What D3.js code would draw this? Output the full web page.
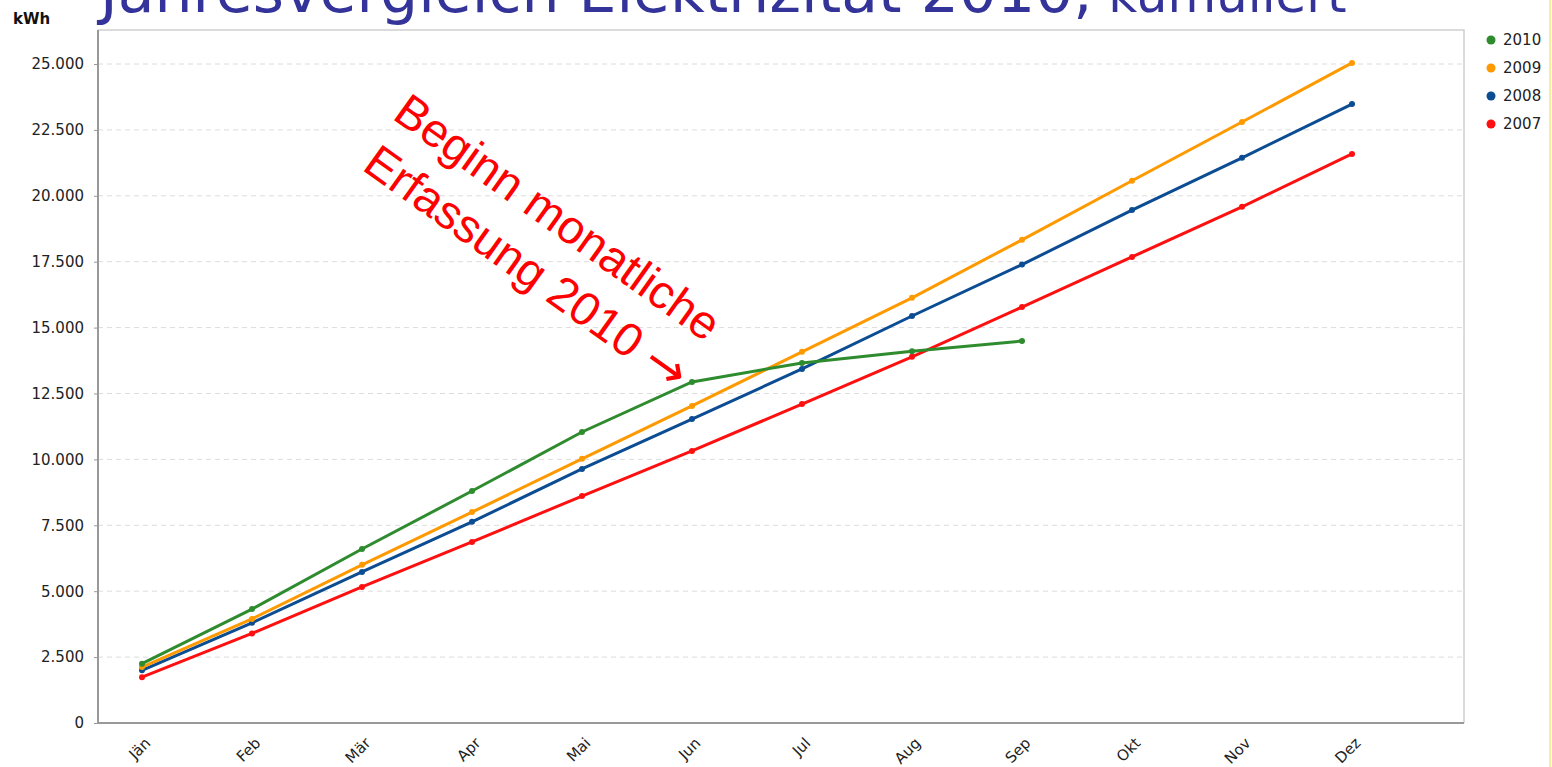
<!DOCTYPE html>
<html>
<head>
<meta charset="utf-8">
<script src="https://cdn.jsdelivr.net/npm/d3@7"></script>
<style>
  body { margin: 0; background: #fff; }
  svg { display: block; }
</style>
</head>
<body>
<div id="chart"></div>
<script>
// Daten (kumulierte kWh)
const months = ["Jän", "Feb", "Mär", "Apr", "Mai", "Jun", "Jul", "Aug", "Sep", "Okt", "Nov", "Dez"];
const years = ["2010", "2009", "2008", "2007"];
const v2010 = [2250, 4320, 6600, 8800, 11040, 12940, 13660, 14100, 14490];
const v2009 = [2120, 3950, 6000, 8000, 10020, 12030, 14080, 16130, 18330, 20570, 22800, 25040];
const v2008 = [2000, 3800, 5730, 7630, 9640, 11530, 13430, 15440, 17390, 19460, 21440, 23480];
const v2007 = [1740, 3400, 5160, 6870, 8610, 10320, 12100, 13890, 15780, 17680, 19580, 21590];
const yTicks = [0, 2500, 5000, 7500, 10000, 12500, 15000, 17500, 20000, 22500, 25000];
const colors = ["#2e8b2e", "#ff9900", "#0b4c92", "#ff1010"];
const titleMain = "Jahresvergleich Elektrizität 2010,";
const titleSub = " kumuliert";
const noteLine1 = "Beginn monatliche";
const noteLine2 = "Erfassung 2010 ";
const noteArrow = "→";

const W = 1552, H = 767;
const margin = { top: 30, right: 88, bottom: 44, left: 98 };
const plotRight = W - margin.right;
const plotBottom = H - margin.bottom;

const svg = d3.select("#chart").append("svg")
    .attr("width", W)
    .attr("height", H);

// Skalen
const x = d3.scalePoint().domain(months).range([142, 1352]);
const y = d3.scaleLinear().domain([0, 25000]).range([plotBottom, 64]);

const de = d3.formatLocale({ decimal: ",", thousands: ".", grouping: [3], currency: ["", "€"] });
const fmt = de.format(",d");

// Rahmen (oben/rechts hellgrau)
svg.append("path")
    .attr("d", `M${margin.left},${margin.top}H${plotRight}V${plotBottom}`)
    .attr("fill", "none")
    .attr("stroke", "#cfcfcf")
    .attr("stroke-width", 1.5);

// Gitterlinien
svg.append("g")
    .selectAll("line")
    .data(yTicks.filter(d => d > 0))
    .enter().append("line")
    .attr("x1", margin.left)
    .attr("x2", plotRight)
    .attr("y1", d => y(d))
    .attr("y2", d => y(d))
    .attr("stroke", "#dcdcdc")
    .attr("stroke-dasharray", "5,4");

// Y-Achse
const yAxis = svg.append("g")
    .attr("transform", `translate(${margin.left},0)`)
    .call(d3.axisLeft(y).tickValues(yTicks).tickFormat(fmt).tickSizeInner(4).tickSizeOuter(0).tickPadding(10));
yAxis.select(".domain").remove();
yAxis.selectAll(".tick line").attr("stroke", "#999");
yAxis.selectAll("text")
    .attr("font-family", "DejaVu Sans, Verdana, sans-serif")
    .attr("font-size", 15)
    .attr("fill", "#222");
svg.append("line")
    .attr("x1", margin.left).attr("x2", margin.left)
    .attr("y1", margin.top).attr("y2", plotBottom)
    .attr("stroke", "#999").attr("stroke-width", 2);

// X-Achse
const xAxis = svg.append("g")
    .attr("transform", `translate(0,${plotBottom})`)
    .call(d3.axisBottom(x).tickSize(0).tickPadding(0));
xAxis.select(".domain").remove();
xAxis.selectAll("text")
    .attr("font-family", "DejaVu Sans, Verdana, sans-serif")
    .attr("font-size", 15)
    .attr("fill", "#222")
    .attr("text-anchor", "end")
    .attr("dy", null)
    .attr("y", 0)
    .attr("transform", "translate(9,21) rotate(-45)");
svg.append("line")
    .attr("x1", margin.left).attr("x2", plotRight)
    .attr("y1", plotBottom).attr("y2", plotBottom)
    .attr("stroke", "#999").attr("stroke-width", 2);

// kWh Label
svg.append("text")
    .attr("x", 13)
    .attr("y", 24)
    .attr("font-family", "DejaVu Sans, Verdana, sans-serif")
    .attr("font-weight", "bold")
    .attr("font-size", 15)
    .attr("fill", "#111")
    .text("kWh");

// Linien
const series = [v2010, v2009, v2008, v2007].map((vals, i) => ({
    name: years[i],
    color: colors[i],
    values: vals.map((v, j) => ({ month: months[j], value: v }))
}));

const line = d3.line()
    .x(d => x(d.month))
    .y(d => y(d.value));

const lines = svg.append("g");
series.slice().reverse().forEach(s => {
    lines.append("path")
        .datum(s.values)
        .attr("d", line)
        .attr("fill", "none")
        .attr("stroke", s.color)
        .attr("stroke-width", 3);
    lines.selectAll(null)
        .data(s.values)
        .enter().append("circle")
        .attr("cx", d => x(d.month))
        .attr("cy", d => y(d.value))
        .attr("r", 3)
        .attr("fill", s.color);
});

// Legende
const legend = svg.append("g")
    .attr("transform", "translate(1491,40)");
const item = legend.selectAll("g")
    .data(series)
    .enter().append("g")
    .attr("transform", (d, i) => `translate(0,${i * 28})`);
item.append("circle")
    .attr("r", 4.5)
    .attr("fill", d => d.color);
item.append("text")
    .attr("x", 12)
    .attr("dy", "0.36em")
    .attr("font-family", "DejaVu Sans, Verdana, sans-serif")
    .attr("font-size", 15)
    .attr("fill", "#222")
    .text(d => d.name);

// Titel (oben abgeschnitten, wie im Original)
const title = svg.append("text")
    .attr("x", 100)
    .attr("y", 12)
    .attr("font-family", "DejaVu Sans, Verdana, sans-serif")
    .attr("fill", "#333399");
title.append("tspan")
    .attr("font-size", 60)
    .text(titleMain);
title.append("tspan")
    .attr("font-size", 50)
    .text(titleSub);

// Anmerkung
const note = svg.append("text")
    .attr("transform", "translate(391,118) rotate(35.5)")
    .attr("font-family", "Liberation Sans, Arial, sans-serif")
    .attr("font-size", 47)
    .attr("fill", "#ff0000");
note.append("tspan")
    .attr("x", 0)
    .attr("y", 0)
    .text(noteLine1);
note.append("tspan")
    .attr("x", 5)
    .attr("y", 59)
    .text(noteLine2);
note.append("tspan")
    .attr("font-family", "DejaVu Sans, sans-serif")
    .attr("font-size", 50)
    .text(noteArrow);

// gelber Rand rechts
svg.append("rect")
    .attr("x", 1549)
    .attr("y", 0)
    .attr("width", 2)
    .attr("height", H)
    .attr("fill", "#f3eea0");
</script>
</body>
</html>
